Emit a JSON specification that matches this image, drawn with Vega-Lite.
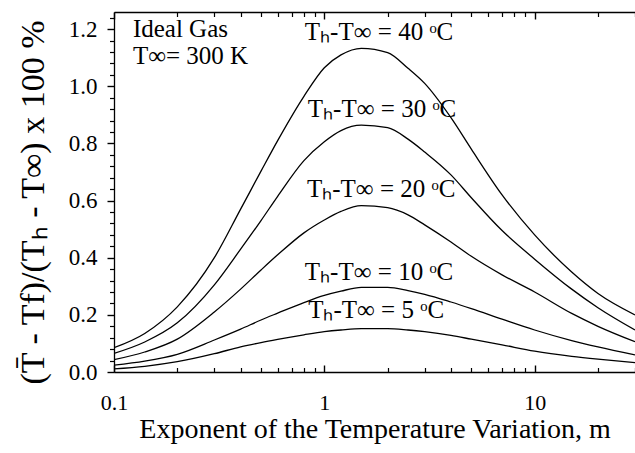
{
  "$schema": "https://vega.github.io/schema/vega-lite/v6.json",
  "width": 521,
  "height": 360,
  "autosize": {"type": "none"},
  "padding": {"left": 114, "top": 12, "right": 0, "bottom": 81},
  "background": "white",
  "config": {
    "view": {"stroke": null},
    "font": "Liberation Serif",
    "axis": {"grid": false}
  },
  "datasets": {
    "curves": [
      {"dT": 40, "m": 0.1, "v": 0.085}, {"dT": 40, "m": 0.14, "v": 0.135}, {"dT": 40, "m": 0.2, "v": 0.228}, {"dT": 40, "m": 0.3, "v": 0.4}, {"dT": 40, "m": 0.4, "v": 0.57}, {"dT": 40, "m": 0.5, "v": 0.703}, {"dT": 40, "m": 0.6, "v": 0.81}, {"dT": 40, "m": 0.8, "v": 0.965}, {"dT": 40, "m": 1.0, "v": 1.065}, {"dT": 40, "m": 1.2, "v": 1.11}, {"dT": 40, "m": 1.5, "v": 1.133}, {"dT": 40, "m": 2.0, "v": 1.118}, {"dT": 40, "m": 2.5, "v": 1.063}, {"dT": 40, "m": 3.0, "v": 1.01}, {"dT": 40, "m": 4.0, "v": 0.89}, {"dT": 40, "m": 5.0, "v": 0.78}, {"dT": 40, "m": 7.0, "v": 0.62}, {"dT": 40, "m": 10, "v": 0.48}, {"dT": 40, "m": 15, "v": 0.35}, {"dT": 40, "m": 20, "v": 0.275}, {"dT": 40, "m": 30, "v": 0.2},
      {"dT": 30, "m": 0.1, "v": 0.065}, {"dT": 30, "m": 0.14, "v": 0.105}, {"dT": 30, "m": 0.2, "v": 0.172}, {"dT": 30, "m": 0.3, "v": 0.305}, {"dT": 30, "m": 0.4, "v": 0.43}, {"dT": 30, "m": 0.5, "v": 0.53}, {"dT": 30, "m": 0.6, "v": 0.615}, {"dT": 30, "m": 0.8, "v": 0.74}, {"dT": 30, "m": 1.0, "v": 0.806}, {"dT": 30, "m": 1.2, "v": 0.845}, {"dT": 30, "m": 1.5, "v": 0.864}, {"dT": 30, "m": 2.0, "v": 0.855}, {"dT": 30, "m": 2.5, "v": 0.815}, {"dT": 30, "m": 3.0, "v": 0.77}, {"dT": 30, "m": 4.0, "v": 0.69}, {"dT": 30, "m": 5.0, "v": 0.61}, {"dT": 30, "m": 7.0, "v": 0.495}, {"dT": 30, "m": 10, "v": 0.395}, {"dT": 30, "m": 15, "v": 0.29}, {"dT": 30, "m": 20, "v": 0.225}, {"dT": 30, "m": 30, "v": 0.147},
      {"dT": 20, "m": 0.1, "v": 0.043}, {"dT": 20, "m": 0.14, "v": 0.07}, {"dT": 20, "m": 0.2, "v": 0.115}, {"dT": 20, "m": 0.3, "v": 0.21}, {"dT": 20, "m": 0.4, "v": 0.29}, {"dT": 20, "m": 0.5, "v": 0.357}, {"dT": 20, "m": 0.6, "v": 0.41}, {"dT": 20, "m": 0.8, "v": 0.487}, {"dT": 20, "m": 1.0, "v": 0.532}, {"dT": 20, "m": 1.2, "v": 0.562}, {"dT": 20, "m": 1.5, "v": 0.582}, {"dT": 20, "m": 2.0, "v": 0.575}, {"dT": 20, "m": 2.5, "v": 0.55}, {"dT": 20, "m": 3.0, "v": 0.515}, {"dT": 20, "m": 4.0, "v": 0.455}, {"dT": 20, "m": 5.0, "v": 0.405}, {"dT": 20, "m": 7.0, "v": 0.34}, {"dT": 20, "m": 10, "v": 0.28}, {"dT": 20, "m": 15, "v": 0.205}, {"dT": 20, "m": 20, "v": 0.16}, {"dT": 20, "m": 30, "v": 0.106},
      {"dT": 10, "m": 0.1, "v": 0.024}, {"dT": 10, "m": 0.14, "v": 0.038}, {"dT": 10, "m": 0.2, "v": 0.062}, {"dT": 10, "m": 0.3, "v": 0.112}, {"dT": 10, "m": 0.4, "v": 0.15}, {"dT": 10, "m": 0.5, "v": 0.182}, {"dT": 10, "m": 0.6, "v": 0.206}, {"dT": 10, "m": 0.8, "v": 0.243}, {"dT": 10, "m": 1.0, "v": 0.268}, {"dT": 10, "m": 1.2, "v": 0.283}, {"dT": 10, "m": 1.5, "v": 0.296}, {"dT": 10, "m": 2.0, "v": 0.296}, {"dT": 10, "m": 2.5, "v": 0.285}, {"dT": 10, "m": 3.0, "v": 0.272}, {"dT": 10, "m": 4.0, "v": 0.245}, {"dT": 10, "m": 5.0, "v": 0.222}, {"dT": 10, "m": 7.0, "v": 0.185}, {"dT": 10, "m": 10, "v": 0.147}, {"dT": 10, "m": 15, "v": 0.11}, {"dT": 10, "m": 20, "v": 0.088}, {"dT": 10, "m": 30, "v": 0.06},
      {"dT": 5, "m": 0.1, "v": 0.011}, {"dT": 5, "m": 0.14, "v": 0.02}, {"dT": 5, "m": 0.2, "v": 0.036}, {"dT": 5, "m": 0.3, "v": 0.064}, {"dT": 5, "m": 0.4, "v": 0.088}, {"dT": 5, "m": 0.5, "v": 0.103}, {"dT": 5, "m": 0.6, "v": 0.114}, {"dT": 5, "m": 0.8, "v": 0.13}, {"dT": 5, "m": 1.0, "v": 0.141}, {"dT": 5, "m": 1.2, "v": 0.147}, {"dT": 5, "m": 1.5, "v": 0.152}, {"dT": 5, "m": 2.0, "v": 0.152}, {"dT": 5, "m": 2.5, "v": 0.147}, {"dT": 5, "m": 3.0, "v": 0.141}, {"dT": 5, "m": 4.0, "v": 0.128}, {"dT": 5, "m": 5.0, "v": 0.115}, {"dT": 5, "m": 7.0, "v": 0.095}, {"dT": 5, "m": 10, "v": 0.073}, {"dT": 5, "m": 15, "v": 0.055}, {"dT": 5, "m": 20, "v": 0.045}, {"dT": 5, "m": 30, "v": 0.033}
    ],
    "labels": [
      {"kind": "curve", "label": "Tₕ-T∞ = 40 ᵒC", "m": 0.808, "v": 1.162},
      {"kind": "curve", "label": "Tₕ-T∞ = 30 ᵒC", "m": 0.835, "v": 0.894},
      {"kind": "curve", "label": "Tₕ-T∞ = 20 ᵒC", "m": 0.827, "v": 0.614},
      {"kind": "curve", "label": "Tₕ-T∞ = 10 ᵒC", "m": 0.808, "v": 0.322},
      {"kind": "curve", "label": "Tₕ-T∞ = 5 ᵒC", "m": 0.838, "v": 0.188},
      {"kind": "gas", "label": "Ideal Gas", "m": 0.123, "v": 1.173},
      {"kind": "temp", "label": "T∞= 300 K", "m": 0.123, "v": 1.078}
    ]
  },
  "layer": [
    {
      "data": {"name": "curves"},
      "mark": {"type": "line", "color": "black", "strokeWidth": 1.3, "interpolate": "monotone", "clip": true},
      "encoding": {
        "x": {
          "field": "m", "type": "quantitative",
          "scale": {"type": "log", "domain": [0.1, 30], "nice": false},
          "axis": {
            "orient": "bottom",
            "values": [0.1, 1, 10],
            "tickSize": -7,
            "tickColor": "black",
            "tickWidth": 1.4,
            "domainColor": "black",
            "domainWidth": 1.3,
            "format": "~g",
            "labelColor": "black",
            "labelFont": "Liberation Serif",
            "labelFontSize": 22,
            "labelPadding": 27,
            "labelFlush": false,
            "labelOverlap": false,
            "title": "Exponent of the Temperature Variation, m",
            "titleColor": "black",
            "titleFont": "Liberation Serif",
            "titleFontWeight": "normal",
            "titleFontSize": 28,
            "titlePadding": 2
          }
        },
        "y": {
          "field": "v", "type": "quantitative",
          "scale": {"domain": [0, 1.26], "nice": false, "zero": false},
          "axis": {
            "orient": "left",
            "values": [0, 0.2, 0.4, 0.6, 0.8, 1, 1.2],
            "tickSize": 7,
            "tickColor": "black",
            "tickWidth": 1.4,
            "domainColor": "black",
            "domainWidth": 1.3,
            "format": ".1f",
            "labelColor": "black",
            "labelFont": "Liberation Serif",
            "labelFontSize": 23,
            "labelPadding": 10,
            "labelFlush": false,
            "labelOverlap": false,
            "title": "(T̄ - Tf)/(Tₕ - T∞) x 100 %",
            "titleColor": "black",
            "titleFont": "Liberation Serif",
            "titleFontWeight": "normal",
            "titleFontSize": 34,
            "titlePadding": 18,
            "titleY": 190
          }
        },
        "detail": {"field": "dT", "type": "nominal"}
      }
    },
    {
      "data": {"name": "labels"},
      "transform": [{"filter": "datum.kind == 'curve'"}],
      "mark": {"type": "text", "align": "left", "baseline": "alphabetic", "fontSize": 25, "font": "Liberation Serif", "color": "black"},
      "encoding": {
        "x": {
          "field": "m", "type": "quantitative",
          "axis": {
            "orient": "bottom",
            "values": [0.2, 0.3, 0.4, 0.5, 0.6, 0.7, 0.8, 0.9, 2, 3, 4, 5, 6, 7, 8, 9, 20, 30],
            "tickSize": -4.5,
            "tickColor": "black",
            "tickWidth": 1.2,
            "labels": false,
            "domain": false,
            "title": null
          }
        },
        "y": {
          "field": "v", "type": "quantitative",
          "axis": {
            "orient": "left",
            "values": [0.04, 0.08, 0.12, 0.16, 0.24, 0.28, 0.32, 0.36, 0.44, 0.48, 0.52, 0.56, 0.64, 0.68, 0.72, 0.76, 0.84, 0.88, 0.92, 0.96, 1.04, 1.08, 1.12, 1.16, 1.24],
            "tickSize": 4.5,
            "tickColor": "black",
            "tickWidth": 1.2,
            "labels": false,
            "domain": false,
            "title": null
          }
        },
        "text": {"field": "label"}
      }
    },
    {
      "data": {"name": "labels"},
      "transform": [{"filter": "datum.kind == 'gas'"}],
      "mark": {"type": "text", "align": "left", "baseline": "alphabetic", "fontSize": 25, "font": "Liberation Serif", "color": "black"},
      "encoding": {
        "x": {
          "field": "m", "type": "quantitative",
          "axis": {
            "orient": "top",
            "values": [0.1, 1, 10],
            "tickSize": -7,
            "tickColor": "black",
            "tickWidth": 1.4,
            "domainColor": "black",
            "domainWidth": 1.3,
            "labels": false,
            "title": null
          }
        },
        "y": {"field": "v", "type": "quantitative", "axis": null},
        "text": {"field": "label"}
      }
    },
    {
      "data": {"name": "labels"},
      "transform": [{"filter": "datum.kind == 'temp'"}],
      "mark": {"type": "text", "align": "left", "baseline": "alphabetic", "fontSize": 25, "font": "Liberation Serif", "color": "black"},
      "encoding": {
        "x": {
          "field": "m", "type": "quantitative",
          "axis": {
            "orient": "top",
            "values": [0.2, 0.3, 0.4, 0.5, 0.6, 0.7, 0.8, 0.9, 2, 3, 4, 5, 6, 7, 8, 9, 20, 30],
            "tickSize": -4.5,
            "tickColor": "black",
            "tickWidth": 1.2,
            "labels": false,
            "domain": false,
            "title": null
          }
        },
        "y": {"field": "v", "type": "quantitative", "axis": null},
        "text": {"field": "label"}
      }
    }
  ],
  "resolve": {"axis": {"x": "independent", "y": "independent"}}
}
